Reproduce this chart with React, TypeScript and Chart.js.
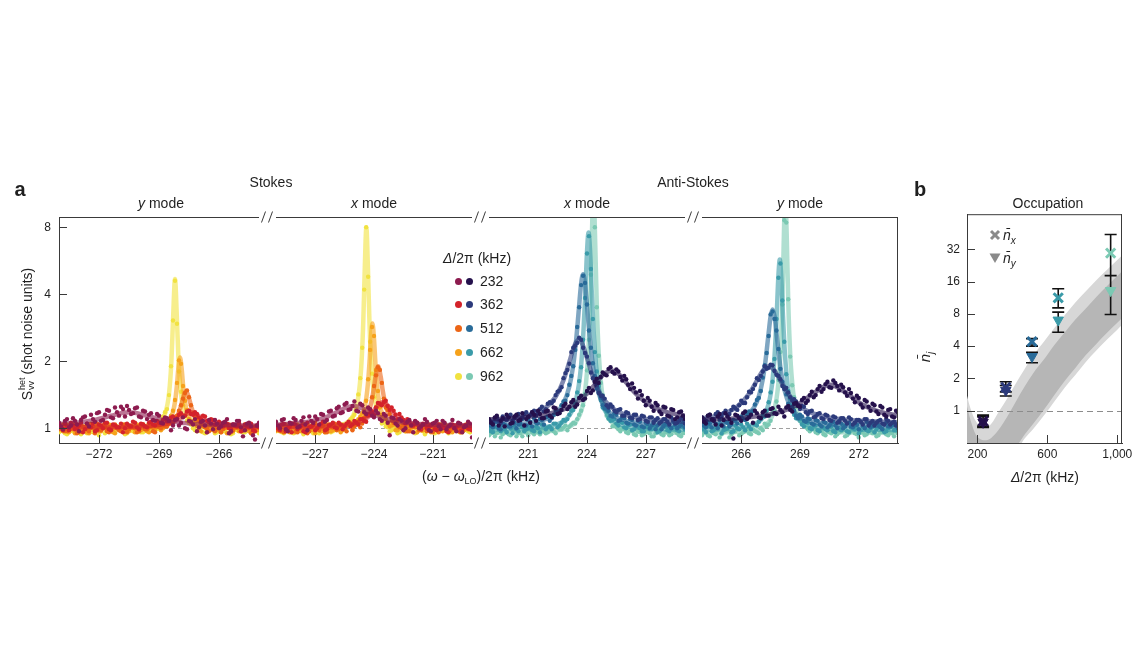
import React, { useEffect, useRef } from 'react';
import { Chart, registerables } from 'chart.js';

Chart.register(...registerables);

const FONT = "'Liberation Sans', Arial, Helvetica, sans-serif";
const AXIS_COLOR = '#3a3a3a';
const TEXT_COLOR = '#1f1f1f';

// ---------- categories / colours ----------
const DELTAS = [232, 362, 512, 662, 962];
const STOKES_COLORS = ['#8d1b4f', '#d4232b', '#ec6516', '#f6a21b', '#f1e240'];
const ANTI_COLORS = ['#25114c', '#2c3a7b', '#296b99', '#3a9ba9', '#7bc9b3'];

// ---------- tick labels ----------
const P1_TICKS = [-272, -269, -266];
const P2_TICKS = [-227, -224, -221];
const P3_TICKS = [221, 224, 227];
const P4_TICKS = [266, 269, 272];
const A_Y_TICKS = [1, 2, 4, 8];
const B_X_TICKS = [200, 600, 1000];
const B_Y_TICKS = [1, 2, 4, 8, 16, 32];

// ---------- panel a, Stokes y mode ----------
const SX1 = [-274, -273.8, -273.6, -273.4, -273.2, -273, -272.8, -272.6, -272.4, -272.2, -272, -271.8, -271.6, -271.4, -271.2, -271, -270.8, -270.6, -270.4, -270.2, -270, -269.8, -269.6, -269.4, -269.2, -269, -268.8, -268.6, -268.4, -268.2, -268, -267.8, -267.6, -267.4, -267.2, -267, -266.8, -266.6, -266.4, -266.2, -266, -265.8, -265.6, -265.4, -265.2, -265, -264.8, -264.6, -264.4, -264.2, -264];
const S1_962 = [0.96, 1.01, 0.94, 0.99, 1.03, 0.97, 1.0, 0.95, 1.02, 0.98, 0.93, 1.0, 0.97, 1.03, 0.96, 0.99, 1.02, 0.95, 1.0, 0.97, 1.01, 0.96, 1.03, 0.98, 1.02, 1.05, 1.13, 1.22, 1.9, 4.6, 1.8, 1.27, 1.08, 1.04, 0.98, 1.01, 0.96, 0.99, 1.02, 0.95, 1.0, 0.97, 1.02, 0.94, 0.99, 1.01, 0.96, 1.0, 0.97, 1.02, 0.95];
const S1_662 = [1.02, 0.97, 1.04, 0.99, 0.95, 1.03, 1.0, 0.96, 1.05, 1.01, 0.97, 1.03, 0.98, 1.02, 0.95, 1.0, 1.04, 0.98, 1.02, 0.96, 1.01, 1.04, 0.97, 1.02, 0.99, 1.03, 1.0, 1.08, 1.14, 1.34, 2.02, 1.55, 1.21, 1.06, 1.07, 0.99, 1.03, 0.96, 1.01, 1.04, 0.98, 1.02, 0.95, 1.01, 1.03, 0.97, 1.0, 1.04, 0.96, 1.02, 0.99];
const S1_512 = [0.99, 1.04, 0.97, 1.01, 1.05, 0.96, 1.02, 0.99, 1.04, 0.95, 1.01, 1.03, 0.97, 1.0, 1.04, 0.98, 1.02, 0.96, 1.03, 1.0, 0.97, 1.04, 0.99, 1.02, 0.96, 1.01, 1.05, 1.02, 1.08, 1.1, 1.2, 1.36, 1.48, 1.27, 1.12, 1.08, 1.03, 1.0, 1.04, 0.97, 1.02, 0.99, 1.03, 0.96, 1.01, 1.04, 0.98, 1.02, 0.95, 1.0, 1.03];
const S1_362 = [1.04, 0.98, 1.02, 1.06, 0.99, 1.03, 0.96, 1.05, 1.01, 0.97, 1.04, 1.0, 1.06, 0.98, 1.03, 1.01, 0.96, 1.05, 1.02, 1.06, 0.99, 1.04, 1.01, 1.07, 1.03, 1.06, 1.09, 1.07, 1.12, 1.1, 1.15, 1.13, 1.19, 1.16, 1.18, 1.12, 1.14, 1.08, 1.1, 1.04, 1.07, 1.02, 1.05, 0.99, 1.03, 1.06, 0.98, 1.02, 1.05, 0.97, 1.01];
const S1_232 = [1.06, 0.99, 1.1, 1.03, 1.08, 0.97, 1.12, 1.05, 1.15, 1.07, 1.18, 1.09, 1.21, 1.12, 1.24, 1.14, 1.22, 1.26, 1.16, 1.23, 1.13, 1.2, 1.1, 1.17, 1.08, 1.14, 1.05, 1.11, 0.98, 1.09, 1.03, 1.12, 0.99, 1.07, 1.1, 1.01, 1.08, 0.96, 1.05, 1.09, 1.0, 1.06, 1.1, 0.97, 1.04, 1.08, 0.92, 1.05, 1.02, 0.89, 1.06];
const SX1B = [-273.9, -273.7, -273.5, -273.3, -273.1, -272.9, -272.7, -272.5, -272.3, -272.1, -271.9, -271.7, -271.5, -271.3, -271.1, -270.9, -270.7, -270.5, -270.3, -270.1, -269.9, -269.7, -269.5, -269.3, -269.1, -268.9, -268.7, -268.5, -268.3, -268.1, -267.9, -267.7, -267.5, -267.3, -267.1, -266.9, -266.7, -266.5, -266.3, -266.1, -265.9, -265.7, -265.5, -265.3, -265.1, -264.9, -264.7, -264.5, -264.3, -264.1];
const S1B_962 = [0.98, 0.95, 1.02, 0.97, 1.0, 0.94, 1.01, 0.98, 0.96, 1.03, 0.99, 0.95, 1.01, 0.97, 1.02, 0.98, 0.94, 1.0, 0.97, 1.02, 0.96, 1.0, 0.98, 1.03, 0.99, 1.07, 1.18, 1.41, 3.05, 2.95, 1.46, 1.14, 1.06, 1.0, 0.97, 1.02, 0.95, 0.99, 1.01, 0.96, 1.0, 0.97, 1.03, 0.95, 0.98, 1.01, 0.96, 1.02, 0.98, 0.97];
const S1B_662 = [0.99, 1.03, 0.96, 1.01, 1.04, 0.98, 1.02, 0.95, 1.0, 1.03, 0.97, 1.01, 1.04, 0.96, 1.02, 0.99, 1.03, 0.97, 1.0, 1.04, 0.98, 1.02, 0.96, 1.01, 1.03, 0.98, 1.02, 1.05, 1.2, 1.6, 1.95, 1.33, 1.1, 1.08, 1.02, 0.97, 1.01, 1.04, 0.98, 1.02, 0.96, 1.0, 1.03, 0.97, 1.01, 0.99, 1.04, 0.97, 1.01, 0.98];
const S1B_512 = [1.02, 0.97, 1.03, 0.99, 0.95, 1.04, 1.0, 0.97, 1.02, 1.05, 0.98, 1.02, 0.96, 1.03, 1.0, 0.97, 1.04, 0.99, 1.02, 0.96, 1.03, 0.99, 1.01, 0.97, 1.04, 1.0, 1.02, 1.05, 1.06, 1.14, 1.27, 1.44, 1.38, 1.17, 1.11, 1.05, 1.01, 0.97, 1.03, 1.0, 0.96, 1.02, 1.04, 0.98, 1.01, 0.97, 1.03, 1.0, 0.96, 1.02];
const S1B_362 = [1.01, 1.05, 0.98, 1.03, 1.0, 1.06, 0.99, 1.02, 1.05, 0.98, 1.03, 1.06, 0.99, 1.04, 1.01, 1.05, 1.0, 1.03, 1.07, 1.01, 1.05, 1.02, 1.06, 1.04, 1.08, 1.05, 1.1, 1.08, 1.13, 1.11, 1.17, 1.14, 1.2, 1.15, 1.16, 1.1, 1.13, 1.07, 1.09, 1.05, 1.03, 1.06, 1.0, 1.04, 1.02, 0.97, 1.04, 1.01, 0.98, 1.03];
const S1B_232 = [1.02, 1.08, 1.01, 1.11, 1.04, 1.09, 1.13, 1.02, 1.1, 1.17, 1.08, 1.15, 1.2, 1.11, 1.18, 1.25, 1.13, 1.21, 1.17, 1.24, 1.12, 1.19, 1.15, 1.09, 1.16, 1.06, 1.12, 1.08, 1.03, 1.1, 1.06, 1.0, 1.08, 1.04, 0.97, 1.07, 1.03, 1.09, 0.99, 1.05, 1.02, 1.07, 0.95, 1.04, 1.08, 1.01, 0.98, 1.06, 0.93, 1.03];
const FX1 = [-274, -273, -272.2, -271.4, -270.5, -269.6, -269.0, -268.7, -268.5, -268.38, -268.29, -268.2, -268.11, -268.03, -267.95, -267.87, -267.78, -267.65, -267.52, -267.4, -267.25, -267.05, -266.8, -266.5, -266.1, -265.6, -265.0, -264.4, -264.0];
const F1_962 = [0.991, 0.992, 0.993, 0.994, 0.999, 1.013, 1.059, 1.161, 1.428, 1.996, 3.207, 4.69, 3.207, 2.082, 1.59, 1.36, 1.228, 1.132, 1.084, 1.059, 1.039, 1.024, 1.013, 1.005, 1.0, 0.997, 0.994, 0.993, 0.993];
const F1_662 = [1.001, 1.001, 1.002, 1.002, 1.004, 1.01, 1.025, 1.047, 1.084, 1.131, 1.196, 1.314, 1.54, 1.864, 2.08, 1.864, 1.507, 1.239, 1.131, 1.084, 1.054, 1.033, 1.02, 1.013, 1.008, 1.005, 1.003, 1.002, 1.002];
const F1_512 = [1.001, 1.001, 1.002, 1.003, 1.005, 1.01, 1.019, 1.031, 1.046, 1.06, 1.076, 1.097, 1.127, 1.165, 1.219, 1.291, 1.387, 1.47, 1.387, 1.262, 1.155, 1.084, 1.046, 1.026, 1.015, 1.009, 1.005, 1.003, 1.003];
const F1_362 = [1.012, 1.012, 1.013, 1.014, 1.017, 1.024, 1.034, 1.044, 1.054, 1.062, 1.069, 1.078, 1.088, 1.098, 1.109, 1.122, 1.137, 1.158, 1.174, 1.18, 1.171, 1.142, 1.102, 1.068, 1.044, 1.03, 1.022, 1.018, 1.016];
const F1_232 = [1.045, 1.062, 1.09, 1.138, 1.18, 1.138, 1.1, 1.086, 1.078, 1.073, 1.07, 1.068, 1.065, 1.063, 1.061, 1.059, 1.057, 1.055, 1.052, 1.05, 1.048, 1.045, 1.043, 1.04, 1.037, 1.034, 1.031, 1.029, 1.028];

// ---------- panel a, Stokes x mode ----------
const SX2 = [-229, -228.8, -228.6, -228.4, -228.2, -228, -227.8, -227.6, -227.4, -227.2, -227, -226.8, -226.6, -226.4, -226.2, -226, -225.8, -225.6, -225.4, -225.2, -225, -224.8, -224.6, -224.4, -224.2, -224, -223.8, -223.6, -223.4, -223.2, -223, -222.8, -222.6, -222.4, -222.2, -222, -221.8, -221.6, -221.4, -221.2, -221, -220.8, -220.6, -220.4, -220.2, -220, -219.8, -219.6, -219.4, -219.2, -219];
const S2_962 = [0.97, 1.02, 0.95, 1.0, 0.96, 1.03, 0.98, 0.94, 1.01, 0.97, 1.0, 0.95, 1.02, 0.98, 0.96, 1.01, 0.99, 1.04, 1.03, 1.1, 1.15, 1.42, 2.3, 8.0, 2.45, 1.38, 1.16, 1.05, 1.02, 0.97, 1.0, 0.95, 1.01, 0.97, 0.99, 1.03, 0.96, 1.0, 0.94, 0.98, 1.02, 0.96, 0.99, 1.01, 0.95, 0.98, 1.02, 0.96, 1.0, 0.97, 0.99];
const S2_662 = [1.02, 0.97, 1.04, 0.99, 1.03, 0.96, 1.01, 1.05, 0.98, 1.02, 0.95, 1.03, 0.99, 1.04, 0.97, 1.01, 1.05, 0.98, 1.03, 1.06, 1.04, 1.1, 1.17, 1.33, 2.25, 2.6, 1.47, 1.15, 1.1, 1.02, 1.05, 0.98, 1.03, 0.97, 1.01, 1.04, 0.96, 1.02, 0.99, 1.03, 0.97, 1.0, 1.04, 0.98, 1.02, 0.96, 1.01, 1.03, 0.98, 1.02, 0.99];
const S2_512 = [0.98, 1.03, 0.96, 1.02, 1.05, 0.97, 1.0, 1.04, 0.95, 1.01, 1.06, 0.98, 1.03, 0.96, 1.02, 1.05, 0.99, 1.03, 0.97, 1.04, 1.02, 1.07, 1.05, 1.15, 1.22, 1.55, 1.88, 1.6, 1.24, 1.16, 1.06, 1.08, 1.0, 1.04, 0.97, 1.02, 1.05, 0.98, 1.01, 1.04, 0.96, 1.02, 0.99, 1.05, 0.97, 1.01, 1.03, 0.96, 1.02, 0.99, 1.03];
const S2_362 = [1.03, 0.98, 1.05, 1.0, 0.96, 1.04, 1.01, 0.97, 1.06, 1.02, 0.98, 1.03, 1.07, 0.99, 1.04, 1.01, 1.06, 0.99, 1.05, 1.02, 1.08, 1.04, 1.1, 1.07, 1.17, 1.15, 1.3, 1.27, 1.33, 1.21, 1.2, 1.1, 1.12, 1.05, 1.08, 1.03, 1.06, 0.99, 1.04, 1.01, 1.05, 0.98, 1.03, 1.0, 0.96, 1.04, 1.01, 0.97, 1.03, 1.0, 0.98];
const S2_232 = [1.07, 1.0, 1.1, 0.97, 1.05, 1.09, 1.02, 1.12, 0.98, 1.08, 1.13, 1.04, 1.15, 1.09, 1.2, 1.14, 1.25, 1.18, 1.3, 1.22, 1.32, 1.19, 1.27, 1.16, 1.22, 1.12, 1.17, 1.08, 1.14, 0.93, 1.11, 1.03, 1.08, 1.0, 1.09, 0.96, 1.06, 1.02, 1.1, 0.98, 1.05, 1.08, 0.99, 1.06, 1.02, 1.09, 0.97, 1.05, 1.01, 1.07, 0.91];
const SX2B = [-228.9, -228.7, -228.5, -228.3, -228.1, -227.9, -227.7, -227.5, -227.3, -227.1, -226.9, -226.7, -226.5, -226.3, -226.1, -225.9, -225.7, -225.5, -225.3, -225.1, -224.9, -224.7, -224.5, -224.3, -224.1, -223.9, -223.7, -223.5, -223.3, -223.1, -222.9, -222.7, -222.5, -222.3, -222.1, -221.9, -221.7, -221.5, -221.3, -221.1, -220.9, -220.7, -220.5, -220.3, -220.1, -219.9, -219.7, -219.5, -219.3, -219.1];
const S2B_962 = [1.0, 0.96, 1.02, 0.98, 0.95, 1.01, 0.97, 1.03, 0.99, 0.95, 1.02, 0.98, 0.96, 1.01, 0.97, 1.03, 0.99, 1.02, 1.05, 1.12, 1.22, 1.68, 4.2, 4.8, 1.76, 1.25, 1.15, 1.06, 1.01, 0.98, 1.02, 0.96, 1.0, 0.98, 1.03, 0.95, 1.01, 0.97, 1.02, 0.99, 0.95, 1.01, 0.98, 1.03, 0.96, 1.0, 0.97, 1.02, 0.99, 0.96];
const S2B_662 = [0.98, 1.03, 1.0, 0.96, 1.02, 1.04, 0.97, 1.01, 1.03, 0.98, 1.02, 0.97, 1.04, 1.0, 0.98, 1.03, 0.96, 1.01, 1.04, 0.99, 1.07, 1.13, 1.2, 1.66, 2.85, 1.83, 1.24, 1.14, 1.05, 1.03, 0.98, 1.02, 1.0, 1.04, 0.97, 1.01, 1.03, 0.98, 1.02, 0.96, 1.01, 1.04, 0.97, 1.0, 1.03, 0.98, 1.02, 0.96, 1.01, 1.0];
const S2B_512 = [1.01, 0.97, 1.04, 0.99, 1.02, 0.96, 1.03, 1.0, 0.97, 1.04, 0.99, 1.02, 0.96, 1.04, 1.01, 0.98, 1.03, 1.0, 1.05, 0.98, 1.04, 1.01, 1.12, 1.15, 1.38, 1.73, 1.83, 1.36, 1.21, 1.08, 1.08, 1.01, 1.04, 0.97, 1.02, 1.05, 0.98, 1.01, 0.97, 1.03, 1.0, 0.96, 1.04, 1.01, 0.98, 1.03, 1.0, 0.97, 1.04, 1.01];
const S2B_362 = [1.0, 1.04, 0.97, 1.02, 1.05, 0.99, 1.03, 0.96, 1.01, 1.04, 1.0, 1.05, 0.98, 1.03, 1.06, 1.0, 1.04, 1.02, 1.07, 1.04, 1.06, 1.1, 1.08, 1.14, 1.19, 1.24, 1.29, 1.31, 1.26, 1.24, 1.15, 1.16, 1.09, 1.1, 1.04, 1.07, 1.02, 1.05, 1.0, 1.03, 0.99, 1.04, 1.01, 0.97, 1.03, 1.0, 1.05, 0.98, 1.02, 0.99];
const S2B_232 = [1.03, 1.09, 0.99, 1.06, 1.11, 1.01, 1.08, 1.04, 1.13, 1.06, 1.1, 1.16, 1.07, 1.19, 1.13, 1.23, 1.17, 1.28, 1.21, 1.26, 1.2, 1.29, 1.18, 1.24, 1.14, 1.2, 1.1, 1.16, 1.06, 1.12, 1.05, 1.1, 0.98, 1.07, 1.03, 1.08, 1.0, 1.04, 1.07, 0.97, 1.06, 1.02, 1.08, 0.99, 1.04, 1.0, 1.06, 0.96, 1.03, 1.05];
const FX2 = [-229, -228, -227, -226.4, -225.8, -225.4, -225.05, -224.8, -224.65, -224.55, -224.47, -224.39, -224.31, -224.23, -224.15, -224.08, -224.0, -223.92, -223.79, -223.66, -223.55, -223.4, -223.2, -222.9, -222.5, -222.0, -221.4, -220.6, -219.8, -219];
const F2_962 = [0.993, 0.995, 1.0, 1.007, 1.025, 1.058, 1.147, 1.383, 1.892, 2.956, 5.26, 7.99, 5.26, 2.956, 2.026, 1.65, 1.422, 1.293, 1.179, 1.119, 1.088, 1.061, 1.039, 1.021, 1.01, 1.002, 0.998, 0.995, 0.993, 0.992];
const F2_662 = [1.002, 1.003, 1.005, 1.008, 1.015, 1.025, 1.046, 1.082, 1.127, 1.181, 1.253, 1.372, 1.585, 1.98, 2.609, 2.96, 2.526, 1.917, 1.414, 1.222, 1.145, 1.091, 1.055, 1.031, 1.018, 1.01, 1.006, 1.004, 1.002, 1.002];
const F2_512 = [1.002, 1.003, 1.005, 1.008, 1.014, 1.021, 1.034, 1.052, 1.07, 1.088, 1.107, 1.133, 1.169, 1.22, 1.293, 1.384, 1.528, 1.709, 1.9, 1.709, 1.468, 1.262, 1.137, 1.066, 1.033, 1.017, 1.01, 1.005, 1.004, 1.002];
const F2_362 = [1.014, 1.015, 1.019, 1.023, 1.03, 1.039, 1.051, 1.066, 1.079, 1.089, 1.1, 1.111, 1.125, 1.141, 1.16, 1.179, 1.202, 1.227, 1.269, 1.3, 1.31, 1.292, 1.234, 1.148, 1.084, 1.049, 1.032, 1.022, 1.018, 1.015];
const F2_232 = [1.04, 1.054, 1.086, 1.126, 1.193, 1.241, 1.26, 1.25, 1.236, 1.224, 1.214, 1.204, 1.194, 1.184, 1.174, 1.165, 1.156, 1.147, 1.134, 1.123, 1.114, 1.103, 1.091, 1.077, 1.063, 1.052, 1.043, 1.036, 1.032, 1.029];

// ---------- panel a, Anti-Stokes x mode ----------
const SX3 = [219, 219.2, 219.4, 219.6, 219.8, 220, 220.2, 220.4, 220.6, 220.8, 221, 221.2, 221.4, 221.6, 221.8, 222, 222.2, 222.4, 222.6, 222.8, 223, 223.2, 223.4, 223.6, 223.8, 224, 224.2, 224.4, 224.6, 224.8, 225, 225.2, 225.4, 225.6, 225.8, 226, 226.2, 226.4, 226.6, 226.8, 227, 227.2, 227.4, 227.6, 227.8, 228, 228.2, 228.4, 228.6, 228.8, 229];
const S3_962 = [0.93, 0.97, 0.95, 0.91, 0.96, 0.94, 0.98, 0.92, 0.95, 0.97, 0.93, 0.96, 0.99, 0.94, 0.97, 0.96, 1.0, 0.95, 0.99, 1.01, 0.98, 1.04, 1.05, 1.15, 1.27, 1.82, 4.9, 8.0, 2.12, 1.41, 1.14, 1.1, 1.03, 0.99, 1.0, 0.96, 0.98, 0.94, 0.97, 0.93, 0.96, 0.95, 0.92, 0.97, 0.94, 0.96, 0.93, 0.98, 0.95, 0.92, 0.96];
const S3_662 = [1.0, 0.96, 1.01, 0.97, 0.99, 1.02, 0.95, 0.99, 1.03, 0.97, 1.0, 0.98, 1.02, 0.96, 1.03, 1.01, 0.99, 1.05, 1.03, 1.09, 1.1, 1.2, 1.29, 1.63, 2.5, 6.1, 5.2, 2.2, 1.55, 1.24, 1.19, 1.08, 1.1, 1.03, 1.06, 1.0, 1.04, 0.99, 1.02, 0.97, 1.01, 0.99, 1.03, 0.96, 1.0, 1.02, 0.97, 1.01, 0.98, 1.03, 0.99];
const S3_512 = [1.05, 1.01, 1.07, 0.99, 1.04, 1.02, 1.08, 1.0, 1.05, 1.03, 1.09, 1.02, 1.06, 1.1, 1.04, 1.13, 1.11, 1.2, 1.19, 1.32, 1.41, 1.72, 2.25, 3.5, 4.85, 3.6, 2.3, 1.72, 1.45, 1.27, 1.24, 1.14, 1.17, 1.08, 1.12, 1.06, 1.1, 1.04, 1.08, 1.02, 1.06, 1.0, 1.07, 1.03, 0.99, 1.05, 1.02, 1.07, 1.0, 1.04, 1.01];
const S3_362 = [1.09, 1.05, 1.12, 1.06, 1.1, 1.13, 1.07, 1.14, 1.1, 1.16, 1.12, 1.18, 1.14, 1.22, 1.19, 1.29, 1.3, 1.41, 1.48, 1.68, 1.83, 2.2, 2.35, 2.55, 2.3, 2.1, 1.78, 1.65, 1.44, 1.4, 1.27, 1.28, 1.2, 1.21, 1.14, 1.18, 1.12, 1.15, 1.09, 1.14, 1.08, 1.12, 1.06, 1.11, 1.07, 1.1, 1.04, 1.09, 1.06, 1.11, 1.05];
const S3_232 = [1.1, 1.04, 1.14, 1.08, 1.02, 1.12, 1.06, 1.15, 1.09, 1.03, 1.13, 1.18, 1.08, 1.16, 1.11, 1.2, 1.12, 1.23, 1.17, 1.26, 1.22, 1.31, 1.25, 1.37, 1.34, 1.47, 1.44, 1.62, 1.6, 1.78, 1.73, 1.88, 1.76, 1.8, 1.64, 1.66, 1.5, 1.52, 1.36, 1.41, 1.27, 1.33, 1.2, 1.27, 1.16, 1.24, 1.13, 1.21, 1.12, 1.19, 1.1];
const SX3B = [219.1, 219.3, 219.5, 219.7, 219.9, 220.1, 220.3, 220.5, 220.7, 220.9, 221.1, 221.3, 221.5, 221.7, 221.9, 222.1, 222.3, 222.5, 222.7, 222.9, 223.1, 223.3, 223.5, 223.7, 223.9, 224.1, 224.3, 224.5, 224.7, 224.9, 225.1, 225.3, 225.5, 225.7, 225.9, 226.1, 226.3, 226.5, 226.7, 226.9, 227.1, 227.3, 227.5, 227.7, 227.9, 228.1, 228.3, 228.5, 228.7, 228.9];
const S3B_962 = [0.95, 0.92, 0.97, 0.94, 0.96, 0.93, 0.97, 0.95, 0.92, 0.96, 0.98, 0.94, 0.96, 0.99, 0.95, 0.98, 0.97, 1.01, 0.99, 1.03, 1.02, 1.06, 1.1, 1.2, 1.43, 2.5, 10.5, 3.5, 1.6, 1.22, 1.1, 1.02, 1.01, 0.97, 0.99, 0.95, 0.97, 0.93, 0.96, 0.94, 0.97, 0.92, 0.95, 0.98, 0.93, 0.96, 0.94, 0.97, 0.93, 0.95];
const S3B_662 = [0.97, 1.01, 0.99, 1.03, 0.96, 1.0, 1.02, 0.97, 1.01, 0.99, 1.03, 0.97, 1.0, 1.04, 0.99, 1.02, 1.05, 1.01, 1.06, 1.08, 1.15, 1.21, 1.45, 1.88, 3.85, 7.3, 3.1, 1.8, 1.34, 1.22, 1.11, 1.09, 1.05, 1.07, 1.01, 1.03, 0.98, 1.02, 1.0, 0.97, 1.02, 0.99, 1.01, 0.97, 1.03, 0.98, 1.0, 1.02, 0.97, 1.01];
const S3B_512 = [1.03, 1.07, 1.0, 1.05, 1.09, 1.02, 1.06, 1.04, 1.1, 1.03, 1.07, 1.11, 1.05, 1.09, 1.12, 1.08, 1.15, 1.18, 1.27, 1.33, 1.57, 1.9, 2.85, 4.4, 4.5, 2.75, 1.96, 1.51, 1.37, 1.23, 1.2, 1.13, 1.15, 1.09, 1.11, 1.05, 1.09, 1.03, 1.07, 1.01, 1.05, 1.03, 0.99, 1.06, 1.02, 1.05, 1.0, 1.04, 1.02, 1.06];
const S3B_362 = [1.07, 1.11, 1.08, 1.13, 1.09, 1.15, 1.11, 1.16, 1.12, 1.18, 1.15, 1.2, 1.17, 1.25, 1.22, 1.31, 1.33, 1.46, 1.53, 1.77, 1.95, 2.3, 2.42, 2.5, 2.18, 1.96, 1.68, 1.56, 1.4, 1.36, 1.24, 1.25, 1.18, 1.22, 1.14, 1.17, 1.11, 1.15, 1.1, 1.13, 1.07, 1.12, 1.09, 1.05, 1.1, 1.07, 1.12, 1.05, 1.08, 1.1];
const S3B_232 = [1.06, 1.12, 1.03, 1.11, 1.15, 1.05, 1.13, 1.08, 1.17, 1.1, 1.06, 1.15, 1.2, 1.11, 1.19, 1.14, 1.24, 1.16, 1.21, 1.29, 1.25, 1.34, 1.28, 1.4, 1.36, 1.52, 1.48, 1.67, 1.7, 1.75, 1.85, 1.79, 1.84, 1.7, 1.72, 1.57, 1.59, 1.45, 1.47, 1.33, 1.37, 1.25, 1.3, 1.19, 1.25, 1.14, 1.22, 1.1, 1.18, 1.14];
const FX3 = [219, 220, 221, 221.8, 222.4, 222.8, 223.1, 223.3, 223.45, 223.58, 223.7, 223.8, 223.9, 224.0, 224.08, 224.16, 224.24, 224.33, 224.42, 224.5, 224.6, 224.75, 224.9, 225.24, 225.6, 226.0, 226.5, 227.2, 228, 229];
const F3_962 = [0.954, 0.955, 0.959, 0.966, 0.977, 0.992, 1.015, 1.043, 1.077, 1.124, 1.194, 1.293, 1.462, 1.792, 2.337, 3.57, 6.75, 11.95, 6.75, 3.57, 2.16, 1.486, 1.247, 1.069, 1.011, 0.985, 0.971, 0.962, 0.957, 0.955];
const F3_662 = [0.986, 0.99, 0.997, 1.01, 1.036, 1.075, 1.141, 1.231, 1.357, 1.559, 1.921, 2.53, 3.79, 6.19, 7.58, 6.19, 4.17, 2.81, 2.116, 1.771, 1.519, 1.315, 1.208, 1.096, 1.048, 1.023, 1.007, 0.996, 0.99, 0.987];
const F3_512 = [1.033, 1.04, 1.057, 1.092, 1.165, 1.295, 1.541, 1.925, 2.509, 3.398, 4.465, 4.92, 4.465, 3.57, 2.935, 2.457, 2.116, 1.847, 1.661, 1.541, 1.432, 1.321, 1.249, 1.157, 1.109, 1.08, 1.06, 1.045, 1.037, 1.031];
const F3_362 = [1.079, 1.096, 1.137, 1.221, 1.387, 1.644, 1.989, 2.273, 2.444, 2.5, 2.452, 2.35, 2.217, 2.07, 1.961, 1.857, 1.764, 1.672, 1.593, 1.533, 1.469, 1.392, 1.333, 1.243, 1.186, 1.147, 1.118, 1.095, 1.081, 1.071];
const F3_232 = [1.097, 1.107, 1.126, 1.151, 1.184, 1.216, 1.249, 1.278, 1.303, 1.328, 1.353, 1.377, 1.404, 1.432, 1.458, 1.484, 1.513, 1.546, 1.581, 1.613, 1.654, 1.713, 1.764, 1.82, 1.758, 1.605, 1.427, 1.274, 1.189, 1.139];

// ---------- panel a, Anti-Stokes y mode ----------
const SX4 = [264, 264.2, 264.4, 264.6, 264.8, 265, 265.2, 265.4, 265.6, 265.8, 266, 266.2, 266.4, 266.6, 266.8, 267, 267.2, 267.4, 267.6, 267.8, 268, 268.2, 268.4, 268.6, 268.8, 269, 269.2, 269.4, 269.6, 269.8, 270, 270.2, 270.4, 270.6, 270.8, 271, 271.2, 271.4, 271.6, 271.8, 272, 272.2, 272.4, 272.6, 272.8, 273, 273.2, 273.4, 273.6, 273.8, 274];
const S4_962 = [0.93, 0.96, 0.92, 0.95, 0.98, 0.94, 0.97, 0.91, 0.96, 0.99, 0.94, 0.97, 0.95, 0.99, 0.96, 1.0, 1.05, 1.04, 1.17, 1.32, 2.2, 8.6, 3.8, 1.56, 1.25, 1.08, 1.05, 0.99, 1.0, 0.96, 0.98, 0.94, 0.97, 0.95, 0.92, 0.96, 0.98, 0.93, 0.97, 0.95, 0.91, 0.96, 0.94, 0.98, 0.95, 0.93, 0.97, 0.94, 0.96, 0.92, 0.95];
const S4_662 = [1.0, 0.96, 1.02, 0.98, 1.01, 0.95, 0.99, 1.03, 0.97, 1.0, 1.04, 0.98, 1.02, 1.05, 1.03, 1.1, 1.13, 1.31, 1.62, 3.1, 5.5, 2.45, 1.47, 1.27, 1.11, 1.1, 1.02, 1.06, 0.99, 1.03, 0.97, 1.01, 0.98, 1.02, 0.96, 1.0, 1.03, 0.97, 1.01, 0.99, 0.95, 1.02, 0.98, 1.0, 0.96, 1.03, 0.99, 0.97, 1.01, 0.98, 1.0];
const S4_512 = [1.06, 1.01, 1.05, 1.08, 1.0, 1.04, 1.07, 1.02, 1.09, 1.05, 1.13, 1.09, 1.19, 1.2, 1.34, 1.47, 1.92, 2.6, 3.35, 2.75, 1.85, 1.53, 1.29, 1.24, 1.14, 1.15, 1.08, 1.11, 1.05, 1.09, 1.04, 1.07, 1.01, 1.06, 1.03, 1.08, 1.0, 1.05, 1.02, 1.06, 0.99, 1.04, 1.07, 1.01, 1.05, 1.03, 0.99, 1.06, 1.02, 1.04, 1.0];
const S4_362 = [1.12, 1.08, 1.15, 1.1, 1.18, 1.13, 1.2, 1.16, 1.25, 1.21, 1.33, 1.3, 1.46, 1.5, 1.68, 1.72, 1.9, 1.87, 1.92, 1.74, 1.66, 1.5, 1.45, 1.33, 1.32, 1.22, 1.25, 1.16, 1.2, 1.13, 1.17, 1.1, 1.14, 1.08, 1.12, 1.07, 1.11, 1.05, 1.1, 1.06, 1.09, 1.04, 1.1, 1.06, 1.03, 1.08, 1.05, 1.1, 1.04, 1.07, 1.05];
const S4_232 = [1.12, 1.05, 1.15, 1.08, 1.13, 1.03, 1.17, 1.1, 0.9, 1.14, 1.08, 1.19, 1.12, 1.06, 1.17, 1.11, 1.2, 1.14, 1.23, 1.16, 1.21, 1.13, 1.26, 1.19, 1.3, 1.25, 1.37, 1.33, 1.46, 1.41, 1.55, 1.5, 1.62, 1.52, 1.6, 1.48, 1.53, 1.4, 1.44, 1.31, 1.37, 1.24, 1.32, 1.2, 1.27, 1.16, 1.24, 1.13, 1.22, 1.12, 1.18];
const SX4B = [264.1, 264.3, 264.5, 264.7, 264.9, 265.1, 265.3, 265.5, 265.7, 265.9, 266.1, 266.3, 266.5, 266.7, 266.9, 267.1, 267.3, 267.5, 267.7, 267.9, 268.1, 268.3, 268.5, 268.7, 268.9, 269.1, 269.3, 269.5, 269.7, 269.9, 270.1, 270.3, 270.5, 270.7, 270.9, 271.1, 271.3, 271.5, 271.7, 271.9, 272.1, 272.3, 272.5, 272.7, 272.9, 273.1, 273.3, 273.5, 273.7, 273.9];
const S4B_962 = [0.96, 0.93, 0.97, 0.94, 0.91, 0.96, 0.98, 0.94, 0.97, 0.93, 0.96, 0.99, 0.94, 0.97, 0.95, 0.98, 1.02, 1.08, 1.2, 1.65, 3.6, 8.4, 2.1, 1.38, 1.13, 1.05, 1.01, 0.97, 0.99, 0.95, 0.97, 0.93, 0.96, 0.98, 0.94, 0.97, 0.92, 0.95, 0.98, 0.94, 0.96, 0.93, 0.97, 0.95, 0.92, 0.96, 0.98, 0.93, 0.95, 0.97];
const S4B_662 = [0.99, 1.02, 0.97, 1.01, 1.04, 0.98, 1.0, 0.96, 1.03, 0.99, 1.01, 1.05, 0.99, 1.04, 1.07, 1.14, 1.2, 1.45, 2.05, 4.75, 3.75, 1.75, 1.36, 1.15, 1.12, 1.04, 1.07, 1.0, 1.03, 0.98, 1.02, 0.99, 1.03, 0.97, 1.01, 0.98, 1.02, 0.96, 1.0, 1.03, 0.98, 1.01, 0.97, 1.02, 0.99, 1.01, 0.96, 1.0, 1.03, 0.98];
const S4B_512 = [1.03, 1.07, 1.01, 1.05, 1.09, 1.02, 1.06, 1.04, 1.08, 1.12, 1.1, 1.16, 1.17, 1.28, 1.37, 1.69, 2.18, 3.25, 3.1, 2.27, 1.62, 1.42, 1.23, 1.2, 1.11, 1.13, 1.07, 1.1, 1.04, 1.08, 1.02, 1.06, 1.03, 1.07, 1.0, 1.05, 1.02, 1.06, 1.01, 1.04, 1.07, 1.0, 1.05, 1.03, 1.06, 1.01, 1.04, 1.02, 1.05, 1.03];
const S4B_362 = [1.1, 1.14, 1.09, 1.16, 1.12, 1.17, 1.14, 1.21, 1.23, 1.27, 1.3, 1.38, 1.45, 1.57, 1.65, 1.8, 1.85, 1.93, 1.81, 1.72, 1.55, 1.52, 1.38, 1.35, 1.27, 1.26, 1.18, 1.19, 1.12, 1.16, 1.11, 1.15, 1.09, 1.13, 1.06, 1.11, 1.08, 1.12, 1.04, 1.09, 1.07, 1.1, 1.03, 1.08, 1.06, 1.09, 1.04, 1.08, 1.06, 1.03];
const S4B_232 = [1.07, 1.14, 1.1, 1.04, 1.16, 1.09, 1.13, 1.06, 1.15, 1.11, 1.17, 1.1, 1.15, 1.2, 1.12, 1.18, 1.14, 1.22, 1.17, 1.25, 1.18, 1.24, 1.21, 1.29, 1.26, 1.34, 1.3, 1.41, 1.38, 1.5, 1.46, 1.58, 1.53, 1.64, 1.55, 1.57, 1.45, 1.5, 1.36, 1.4, 1.28, 1.34, 1.25, 1.29, 1.19, 1.26, 1.15, 1.21, 1.13, 1.2];
const FX4 = [264, 265, 265.8, 266.4, 266.8, 267.0, 267.2, 267.4, 267.5, 267.6, 267.7, 267.8, 267.9, 267.97, 268.05, 268.13, 268.2, 268.25, 268.32, 268.4, 268.5, 268.65, 268.85, 269.2, 269.7, 270.53, 271.3, 272.2, 273.1, 274];
const F4_962 = [0.955, 0.958, 0.964, 0.975, 0.99, 1.004, 1.027, 1.066, 1.099, 1.147, 1.224, 1.354, 1.602, 1.933, 2.718, 4.73, 8.97, 11.45, 7.49, 3.73, 2.154, 1.456, 1.181, 1.043, 0.99, 0.966, 0.959, 0.955, 0.954, 0.953];
const F4_662 = [0.987, 0.992, 1.003, 1.023, 1.057, 1.091, 1.154, 1.288, 1.42, 1.651, 2.1, 3.06, 4.88, 5.73, 4.68, 3.2, 2.398, 2.04, 1.717, 1.495, 1.332, 1.201, 1.114, 1.05, 1.015, 0.996, 0.99, 0.986, 0.984, 0.983];
const F4_512 = [1.037, 1.052, 1.085, 1.161, 1.316, 1.5, 1.884, 2.682, 3.18, 3.42, 3.18, 2.682, 2.22, 1.972, 1.758, 1.602, 1.5, 1.442, 1.375, 1.316, 1.26, 1.201, 1.151, 1.102, 1.068, 1.045, 1.036, 1.03, 1.027, 1.025];
const F4_362 = [1.106, 1.155, 1.254, 1.43, 1.639, 1.76, 1.86, 1.9, 1.89, 1.86, 1.815, 1.76, 1.699, 1.657, 1.609, 1.563, 1.525, 1.499, 1.466, 1.43, 1.391, 1.34, 1.286, 1.22, 1.163, 1.115, 1.093, 1.079, 1.071, 1.066];
const F4_232 = [1.092, 1.1, 1.11, 1.122, 1.132, 1.138, 1.145, 1.153, 1.158, 1.163, 1.168, 1.174, 1.18, 1.185, 1.191, 1.197, 1.203, 1.207, 1.213, 1.221, 1.231, 1.248, 1.275, 1.333, 1.44, 1.57, 1.454, 1.276, 1.184, 1.14];

// ---------- panel b, occupation ----------
const NX = [0.8, 1.65, 4.4, 11.3, 29.5];
const NX_LO = [0.72, 1.5, 4.0, 9.1, 18.2];
const NX_HI = [0.91, 1.86, 4.7, 13.7, 44];
const NY = [0.78, 1.55, 3.2, 7.0, 13.2];
const NY_LO = [0.7, 1.37, 2.8, 5.4, 7.9];
const NY_HI = [0.88, 1.72, 3.5, 8.3, 18.2];
const BAND_X = [140, 160, 190, 220, 250, 280, 320, 370, 420, 470, 520, 580, 640, 700, 760, 820, 880, 940, 1000, 1027];
const LIGHT_HI = [1.38, 1.05, 0.8, 0.71, 0.7, 0.76, 0.97, 1.3, 1.8, 2.45, 3.3, 4.4, 5.9, 7.8, 10.2, 13, 16.5, 20.5, 25.5, 28];
const DARK_HI = [1.1, 0.82, 0.6, 0.54, 0.53, 0.56, 0.66, 0.88, 1.22, 1.68, 2.25, 3.0, 4.1, 5.4, 7.1, 9, 11.5, 14.5, 18, 20];
const DARK_LO = [0.4, 0.4, 0.4, 0.4, 0.4, 0.4, 0.4, 0.4, 0.46, 0.6, 0.76, 1.02, 1.4, 1.9, 2.5, 3.3, 4.2, 5.3, 6.6, 7.3];
const LIGHT_LO = [0.4, 0.4, 0.4, 0.4, 0.4, 0.4, 0.4, 0.4, 0.42, 0.55, 0.68, 0.9, 1.22, 1.65, 2.15, 2.85, 3.65, 4.6, 5.7, 6.3];

// ---------- layout ----------
const SUBPANELS = [
  { left: 0, width: 263, yAxis: true, rightSpine: false, min: -274, max: -264, ticks: P1_TICKS, colors: STOKES_COLORS, sx: SX1, scatter: [S1_232, S1_362, S1_512, S1_662, S1_962], sxb: SX1B, scatterB: [S1B_232, S1B_362, S1B_512, S1B_662, S1B_962], fx: FX1, fit: [F1_232, F1_362, F1_512, F1_662, F1_962] },
  { left: 272, width: 204, yAxis: false, rightSpine: false, min: -229, max: -219, ticks: P2_TICKS, colors: STOKES_COLORS, sx: SX2, scatter: [S2_232, S2_362, S2_512, S2_662, S2_962], sxb: SX2B, scatterB: [S2B_232, S2B_362, S2B_512, S2B_662, S2B_962], fx: FX2, fit: [F2_232, F2_362, F2_512, F2_662, F2_962] },
  { left: 485, width: 204, yAxis: false, rightSpine: false, min: 219, max: 229, ticks: P3_TICKS, colors: ANTI_COLORS, sx: SX3, scatter: [S3_232, S3_362, S3_512, S3_662, S3_962], sxb: SX3B, scatterB: [S3B_232, S3B_362, S3B_512, S3B_662, S3B_962], fx: FX3, fit: [F3_232, F3_362, F3_512, F3_662, F3_962] },
  { left: 698, width: 204, yAxis: false, rightSpine: true, min: 264, max: 274, ticks: P4_TICKS, colors: ANTI_COLORS, sx: SX4, scatter: [S4_232, S4_362, S4_512, S4_662, S4_962], sxb: SX4B, scatterB: [S4B_232, S4B_362, S4B_512, S4B_662, S4B_962], fx: FX4, fit: [F4_232, F4_362, F4_512, F4_662, F4_962] },
];
const BREAK_X = [267.5, 480.5, 693.5];
const LEGEND_ROWS_Y = [281, 304, 328, 352, 376];

function rgba(hex: string, a: number) {
  const n = parseInt(hex.slice(1), 16);
  return `rgba(${(n >> 16) & 255},${(n >> 8) & 255},${n & 255},${a})`;
}
const fmtSigned = (v: number) => (v < 0 ? '\u2212' + Math.abs(v) : String(v));
const fmtThousands = (v: number) => String(v).replace(/\B(?=(\d{3})+(?!\d))/g, ',');

function subFramePlugin(p: any) {
  return {
    id: 'subFrame',
    beforeDatasetsDraw(chart: any) {
      const { ctx, chartArea: a } = chart;
      const y1 = Math.round(chart.scales.y.getPixelForValue(1)) + 0.5;
      ctx.save();
      ctx.strokeStyle = '#a0a0a0';
      ctx.lineWidth = 1.1;
      ctx.setLineDash([4, 3]);
      ctx.beginPath();
      ctx.moveTo(a.left, y1);
      ctx.lineTo(a.right, y1);
      ctx.stroke();
      ctx.restore();
    },
    afterDraw(chart: any) {
      const { ctx, chartArea: a } = chart;
      ctx.save();
      ctx.strokeStyle = AXIS_COLOR;
      ctx.lineWidth = 1;
      ctx.beginPath();
      ctx.moveTo(a.left, a.top + 0.5);
      ctx.lineTo(a.right, a.top + 0.5);
      if (p.rightSpine) {
        ctx.moveTo(a.right - 0.5, a.top);
        ctx.lineTo(a.right - 0.5, a.bottom);
      }
      for (const t of p.ticks) {
        const x = Math.round(chart.scales.x.getPixelForValue(t)) + 0.5;
        ctx.moveTo(x, a.bottom);
        ctx.lineTo(x, a.bottom - 8);
      }
      if (p.yAxis) {
        for (const t of A_Y_TICKS) {
          const y = Math.round(chart.scales.y.getPixelForValue(t)) + 0.5;
          ctx.moveTo(a.left, y);
          ctx.lineTo(a.left + 8, y);
        }
      }
      ctx.stroke();
      ctx.restore();
    },
  };
}

function buildSub(canvas: HTMLCanvasElement, p: any) {
  const datasets: any[] = [];
  for (let k = 0; k < DELTAS.length; k++) {
    const col = p.colors[k];
    const pts = p.sx.map((x: number, i: number) => ({ x, y: p.scatter[k][i] }))
      .concat(p.sxb.map((x: number, i: number) => ({ x, y: p.scatterB[k][i] })));
    datasets.push({
      type: 'scatter',
      label: 'data ' + DELTAS[k],
      data: pts,
      pointRadius: 2.2,
      pointBackgroundColor: col,
      pointBorderColor: col,
      pointBorderWidth: 0,
      order: 2 * k,
    });
    datasets.push({
      type: 'line',
      label: 'fit ' + DELTAS[k],
      data: p.fx.map((x: number, i: number) => ({ x, y: p.fit[k][i] })),
      borderColor: rgba(col, 0.6),
      borderWidth: 4.5,
      pointRadius: 0,
      fill: false,
      cubicInterpolationMode: 'monotone',
      order: 2 * k + 1,
    });
  }
  const yScale: any = {
    type: 'logarithmic',
    min: 0.859,
    max: 8.9,
    display: p.yAxis,
    grid: { display: false, drawTicks: false },
    border: { display: true, color: AXIS_COLOR, width: 1 },
    afterBuildTicks: (s: any) => { s.ticks = A_Y_TICKS.map((v) => ({ value: v })); },
    ticks: { autoSkip: false, padding: 8, color: TEXT_COLOR, font: { family: FONT, size: 12 }, callback: (v: any) => String(v) },
  };
  if (p.yAxis) yScale.afterFit = (s: any) => { s.width = 59; };
  return new Chart(canvas, {
    type: 'scatter',
    data: { datasets },
    options: {
      animation: false,
      responsive: false,
      devicePixelRatio: 1,
      events: [],
      layout: { padding: { top: 17, left: 0, right: 0, bottom: 0 } },
      plugins: { legend: { display: false }, tooltip: { enabled: false } },
      scales: {
        x: {
          type: 'linear',
          min: p.min,
          max: p.max,
          grid: { display: false, drawTicks: false },
          border: { display: true, color: AXIS_COLOR, width: 1 },
          afterBuildTicks: (s: any) => { s.ticks = p.ticks.map((v: number) => ({ value: v })); },
          afterFit: (s: any) => { s.height = 27; },
          ticks: { autoSkip: false, maxRotation: 0, padding: 4, color: TEXT_COLOR, font: { family: FONT, size: 12 }, callback: (v: any) => fmtSigned(Number(v)) },
        },
        y: yScale,
      },
    } as any,
    plugins: [subFramePlugin(p)],
  } as any);
}

const occPlugin = {
  id: 'occFrame',
  beforeDatasetDraw(chart: any, args: any) {
    if (chart.data.datasets[args.index].label !== 'ny') return;
    const { ctx, chartArea: a, scales } = chart;
    const xs = scales.x, ys = scales.y;
    ctx.save();
    const y1 = Math.round(ys.getPixelForValue(1)) + 0.5;
    ctx.strokeStyle = '#8c8c8c';
    ctx.lineWidth = 1.1;
    ctx.setLineDash([6, 4]);
    ctx.beginPath();
    ctx.moveTo(a.left, y1);
    ctx.lineTo(a.right, y1);
    ctx.stroke();
    ctx.setLineDash([]);
    ctx.strokeStyle = '#111111';
    ctx.lineWidth = 1.6;
    ctx.beginPath();
    const bars = [[NX_LO, NX_HI], [NY_LO, NY_HI]];
    DELTAS.forEach((d, i) => {
      const x = xs.getPixelForValue(d);
      for (const [lo, hi] of bars) {
        const y0 = ys.getPixelForValue(lo[i]);
        const yt = ys.getPixelForValue(hi[i]);
        ctx.moveTo(x, y0); ctx.lineTo(x, yt);
        ctx.moveTo(x - 6, y0); ctx.lineTo(x + 6, y0);
        ctx.moveTo(x - 6, yt); ctx.lineTo(x + 6, yt);
      }
    });
    ctx.stroke();
    ctx.restore();
  },
  afterDraw(chart: any) {
    const { ctx, chartArea: a, scales } = chart;
    ctx.save();
    ctx.strokeStyle = AXIS_COLOR;
    ctx.lineWidth = 1;
    ctx.beginPath();
    ctx.moveTo(a.left, a.top + 0.5);
    ctx.lineTo(a.right, a.top + 0.5);
    ctx.moveTo(a.right - 0.5, a.top);
    ctx.lineTo(a.right - 0.5, a.bottom);
    for (const t of B_X_TICKS) {
      const x = Math.round(scales.x.getPixelForValue(t)) + 0.5;
      ctx.moveTo(x, a.bottom);
      ctx.lineTo(x, a.bottom - 8);
    }
    for (const t of B_Y_TICKS) {
      const y = Math.round(scales.y.getPixelForValue(t)) + 0.5;
      ctx.moveTo(a.left, y);
      ctx.lineTo(a.left + 8, y);
    }
    ctx.stroke();
    ctx.restore();
  },
};

function buildOcc(canvas: HTMLCanvasElement) {
  const band = (ys: number[], extra: any) => ({
    type: 'line',
    data: BAND_X.map((x, i) => ({ x, y: ys[i] })),
    borderWidth: 0,
    borderColor: 'rgba(0,0,0,0)',
    pointRadius: 0,
    showLine: true,
    cubicInterpolationMode: 'monotone',
    ...extra,
  });
  const datasets: any[] = [
    band(LIGHT_LO, { label: 'lightLo', fill: false, order: 13 }),
    band(LIGHT_HI, { label: 'lightHi', fill: '-1', backgroundColor: '#d7d7d7', order: 12 }),
    band(DARK_LO, { label: 'darkLo', fill: false, order: 11 }),
    band(DARK_HI, { label: 'darkHi', fill: '-1', backgroundColor: '#b6b6b6', order: 10 }),
    {
      type: 'scatter', label: 'ny',
      data: DELTAS.map((x, i) => ({ x, y: NY[i] })),
      pointStyle: 'triangle', pointRotation: 180, pointRadius: 6,
      pointBackgroundColor: ANTI_COLORS, pointBorderColor: ANTI_COLORS, pointBorderWidth: 1,
      order: 2,
    },
    {
      type: 'scatter', label: 'nx',
      data: DELTAS.map((x, i) => ({ x, y: NX[i] })),
      pointStyle: 'crossRot', pointRadius: 6.5,
      pointBackgroundColor: ANTI_COLORS, pointBorderColor: ANTI_COLORS, pointBorderWidth: 3,
      order: 1,
    },
  ];
  return new Chart(canvas, {
    type: 'scatter',
    data: { datasets },
    options: {
      animation: false,
      responsive: false,
      devicePixelRatio: 1,
      events: [],
      layout: { padding: { top: 13, left: 0, right: 23, bottom: 0 } },
      plugins: { legend: { display: false }, tooltip: { enabled: false } },
      scales: {
        x: {
          type: 'linear', min: 140, max: 1027,
          grid: { display: false, drawTicks: false },
          border: { display: true, color: AXIS_COLOR, width: 1 },
          afterBuildTicks: (s: any) => { s.ticks = B_X_TICKS.map((v) => ({ value: v })); },
          afterFit: (s: any) => { s.height = 27; },
          ticks: { autoSkip: false, maxRotation: 0, padding: 4, color: TEXT_COLOR, font: { family: FONT, size: 12 }, callback: (v: any) => fmtThousands(Number(v)) },
        },
        y: {
          type: 'logarithmic', min: 0.5, max: 68,
          grid: { display: false, drawTicks: false },
          border: { display: true, color: AXIS_COLOR, width: 1 },
          afterBuildTicks: (s: any) => { s.ticks = B_Y_TICKS.map((v) => ({ value: v })); },
          afterFit: (s: any) => { s.width = 67; },
          ticks: { autoSkip: false, padding: 7, color: TEXT_COLOR, font: { family: FONT, size: 12 }, callback: (v: any) => String(v) },
        },
      },
    } as any,
    plugins: [occPlugin],
  } as any);
}

function SubChart({ p }: { p: any }) {
  const ref = useRef<HTMLCanvasElement>(null);
  useEffect(() => {
    const chart = buildSub(ref.current!, p);
    return () => chart.destroy();
  }, [p]);
  return (
    <canvas ref={ref} width={p.width} height={270}
      style={{ position: 'absolute', left: p.left, top: 200, width: p.width, height: 270 }} />
  );
}

function OccChart() {
  const ref = useRef<HTMLCanvasElement>(null);
  useEffect(() => {
    const chart = buildOcc(ref.current!);
    return () => chart.destroy();
  }, []);
  return (
    <canvas ref={ref} width={245} height={270}
      style={{ position: 'absolute', left: 900, top: 200, width: 245, height: 270 }} />
  );
}

function T({ x, y, children, style, rotate }: any) {
  return (
    <div style={{
      position: 'absolute', left: x, top: y, whiteSpace: 'nowrap', lineHeight: 1,
      transform: `translate(-50%, -50%)${rotate ? ' rotate(-90deg)' : ''}`,
      ...style,
    }}>{children}</div>
  );
}

const NBAR = 'n\u0304';

export default function App() {
  return (
    <div style={{ position: 'absolute', left: 0, top: 0, width: 1147, height: 645, background: '#ffffff', overflow: 'hidden', fontFamily: FONT, color: TEXT_COLOR }}>
      {SUBPANELS.map((p, i) => <SubChart key={i} p={p} />)}
      <OccChart />

      <svg width={1147} height={645} style={{ position: 'absolute', left: 0, top: 0, pointerEvents: 'none' }}>
        {BREAK_X.map((cx) => [217, 443].map((y) => (
          <g key={`${cx}-${y}`} stroke={AXIS_COLOR} strokeWidth={1}>
            <line x1={cx - 6} y1={y + 5.5} x2={cx - 2} y2={y - 5.5} />
            <line x1={cx + 1} y1={y + 5.5} x2={cx + 5} y2={y - 5.5} />
          </g>
        )))}
      </svg>

      <T x={20} y={189} style={{ fontSize: 20, fontWeight: 700 }}>a</T>
      <T x={920} y={189} style={{ fontSize: 20, fontWeight: 700 }}>b</T>

      <T x={271} y={182} style={{ fontSize: 14 }}>Stokes</T>
      <T x={693} y={182} style={{ fontSize: 14 }}>Anti-Stokes</T>
      <T x={161} y={203} style={{ fontSize: 14 }}><i>y</i> mode</T>
      <T x={374} y={203} style={{ fontSize: 14 }}><i>x</i> mode</T>
      <T x={587} y={203} style={{ fontSize: 14 }}><i>x</i> mode</T>
      <T x={800} y={203} style={{ fontSize: 14 }}><i>y</i> mode</T>

      <div style={{ position: 'absolute', left: 443, top: 250, fontSize: 14, lineHeight: '16px', whiteSpace: 'nowrap' }}>
        <i>Δ</i>/2π (kHz)
      </div>
      {DELTAS.map((d, k) => (
        <div key={d} style={{ position: 'absolute', left: 455, top: LEGEND_ROWS_Y[k] - 8, height: 16, display: 'flex', alignItems: 'center', fontSize: 14, whiteSpace: 'nowrap' }}>
          <span style={{ width: 7, height: 7, borderRadius: '50%', background: STOKES_COLORS[k], display: 'inline-block' }} />
          <span style={{ width: 7, height: 7, borderRadius: '50%', background: ANTI_COLORS[k], display: 'inline-block', marginLeft: 4 }} />
          <span style={{ marginLeft: 7 }}>{d}</span>
        </div>
      ))}

      <T x={481} y={477} style={{ fontSize: 14 }}>
        (<i>ω</i> − <i>ω</i><sub style={{ fontSize: 9, verticalAlign: -3 }}>LO</sub>)/2π (kHz)
      </T>
      <T x={27} y={334} rotate style={{ fontSize: 14 }}>
        <span style={{ display: 'inline-flex', alignItems: 'center' }}>
          <span>S</span>
          <span style={{ display: 'inline-flex', flexDirection: 'column', fontSize: 9, lineHeight: '9px', marginLeft: 1, marginRight: 3 }}>
            <span>het</span><span>vv</span>
          </span>
          <span>(shot noise units)</span>
        </span>
      </T>

      <T x={1048} y={203} style={{ fontSize: 14 }}>Occupation</T>
      <T x={1045} y={477} style={{ fontSize: 14 }}><i>Δ</i>/2π (kHz)</T>
      <T x={926} y={357} rotate style={{ fontSize: 15 }}>
        <i>{NBAR}</i><sub style={{ fontSize: 10 }}><i>j</i></sub>
      </T>

      <svg width={14} height={14} style={{ position: 'absolute', left: 988, top: 228 }}>
        <line x1={3} y1={3} x2={11} y2={11} stroke="#8a8a8a" strokeWidth={3} />
        <line x1={11} y1={3} x2={3} y2={11} stroke="#8a8a8a" strokeWidth={3} />
      </svg>
      <div style={{ position: 'absolute', left: 1003, top: 227, fontSize: 14, lineHeight: '16px', whiteSpace: 'nowrap' }}>
        <i>{NBAR}</i><sub style={{ fontSize: 10 }}><i>x</i></sub>
      </div>
      <svg width={14} height={14} style={{ position: 'absolute', left: 988, top: 251 }}>
        <polygon points="1.5,2.5 12.5,2.5 7,12" fill="#8a8a8a" />
      </svg>
      <div style={{ position: 'absolute', left: 1003, top: 250, fontSize: 14, lineHeight: '16px', whiteSpace: 'nowrap' }}>
        <i>{NBAR}</i><sub style={{ fontSize: 10 }}><i>y</i></sub>
      </div>
    </div>
  );
}
